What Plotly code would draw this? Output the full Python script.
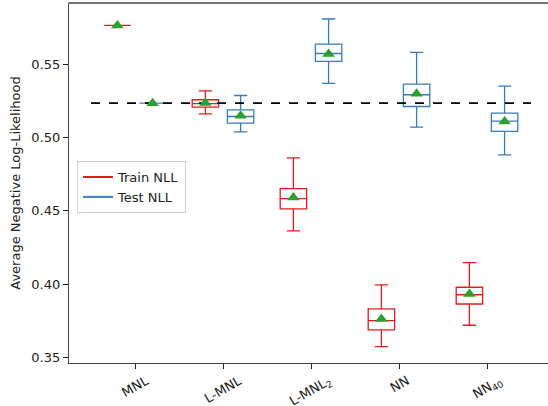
import plotly.graph_objects as go

categories = ["MNL", "L-MNL", "L-MNL<sub>2</sub>", "NN", "NN<sub>40</sub>"]

# Train NLL box statistics
train_lower = [0.5763, 0.5161, 0.4364, 0.3575, 0.3721]
train_q1 = [0.5763, 0.5207, 0.4514, 0.3689, 0.3866]
train_median = [0.5763, 0.5231, 0.4584, 0.3752, 0.3929]
train_q3 = [0.5763, 0.5257, 0.4652, 0.3832, 0.3980]
train_upper = [0.5763, 0.5318, 0.4861, 0.3996, 0.4148]
train_mean = [0.5763, 0.5235, 0.4591, 0.3764, 0.3934]

# Test NLL box statistics
test_lower = [0.5234, 0.5038, 0.5368, 0.5071, 0.4882]
test_q1 = [0.5234, 0.5098, 0.5518, 0.5211, 0.5041]
test_median = [0.5234, 0.5143, 0.5572, 0.5291, 0.5111]
test_q3 = [0.5234, 0.5188, 0.5636, 0.5364, 0.5166]
test_upper = [0.5234, 0.5286, 0.5807, 0.5580, 0.5350]
test_mean = [0.5234, 0.5148, 0.5568, 0.5298, 0.5109]

baseline = 0.5234

RED = "#e41a1c"
BLUE = "#377eb8"
GREEN = "#2ca02c"

pos = [i + 1 for i in range(len(categories))]
off = 0.2
train_x = [p - off for p in pos]
test_x = [p + off for p in pos]

fig = go.Figure()

fig.add_trace(go.Scatter(x=[0.5, len(categories) + 0.5], y=[baseline, baseline], mode="lines",
                         line=dict(color="black", width=1.8, dash="dash"), showlegend=False,
                         hoverinfo="skip"))

for xs, lo, q1, med, q3, up, col in [
    (train_x, train_lower, train_q1, train_median, train_q3, train_upper, RED),
    (test_x, test_lower, test_q1, test_median, test_q3, test_upper, BLUE),
]:
    fig.add_trace(go.Box(x=xs, lowerfence=lo, q1=q1, median=med, q3=q3, upperfence=up,
                         width=0.3, whiskerwidth=0.5, fillcolor="rgba(255,255,255,0)",
                         line=dict(color=col, width=1.3), showlegend=False, boxpoints=False))

fig.add_trace(go.Scatter(x=train_x + test_x, y=train_mean + test_mean, mode="markers",
                         marker=dict(symbol="triangle-up", color=GREEN, size=11),
                         showlegend=False))

fig.add_trace(go.Scatter(x=[None], y=[None], mode="lines", line=dict(color=RED, width=2),
                         name="Train NLL"))
fig.add_trace(go.Scatter(x=[None], y=[None], mode="lines", line=dict(color=BLUE, width=2),
                         name="Test NLL"))

for p, c in zip(pos, categories):
    fig.add_annotation(x=p, y=-0.02, xref="x", yref="paper", text=c, showarrow=False,
                       textangle=-30, xanchor="center", yanchor="top",
                       font=dict(family="DejaVu Sans", size=13, color="#222"))

fig.add_shape(type="line", xref="paper", yref="paper", x0=0, x1=1, y0=1, y1=1,
              line=dict(color="#444", width=1.3))

fig.update_layout(
    width=548, height=406,
    margin=dict(l=69, r=0, t=3, b=43, autoexpand=False),
    plot_bgcolor="white", paper_bgcolor="white",
    font=dict(family="DejaVu Sans", size=13, color="#222"),
    boxmode="overlay",
    legend=dict(x=0.0167, y=0.561, xanchor="left", yanchor="top",
                bgcolor="white", bordercolor="#d0d0d0", borderwidth=1,
                font=dict(size=13), tracegroupgap=0, itemwidth=30),
    xaxis=dict(range=[0.25, 0.25 + 479 / 88], tickvals=pos, ticktext=[""] * len(pos),
               automargin=False,
               showgrid=False, zeroline=False, showline=True, linecolor="#444", linewidth=1.3,
               ticks="outside", ticklen=5, tickcolor="#222"),
    yaxis=dict(range=[0.3464, 0.5916], tickvals=[0.35, 0.40, 0.45, 0.50, 0.55], tickformat=".2f",
               automargin=False,
               showgrid=False, zeroline=False, showline=True, linecolor="#444", linewidth=1.3,
               ticks="outside", ticklen=5, tickcolor="#222",
               title=dict(text="Average Negative Log-Likelihood", standoff=7,
                          font=dict(size=13))),
)

fig.write_html("out.html", config={"displayModeBar": False},
               post_script="document.body.style.margin='0';document.body.style.padding='0';")
